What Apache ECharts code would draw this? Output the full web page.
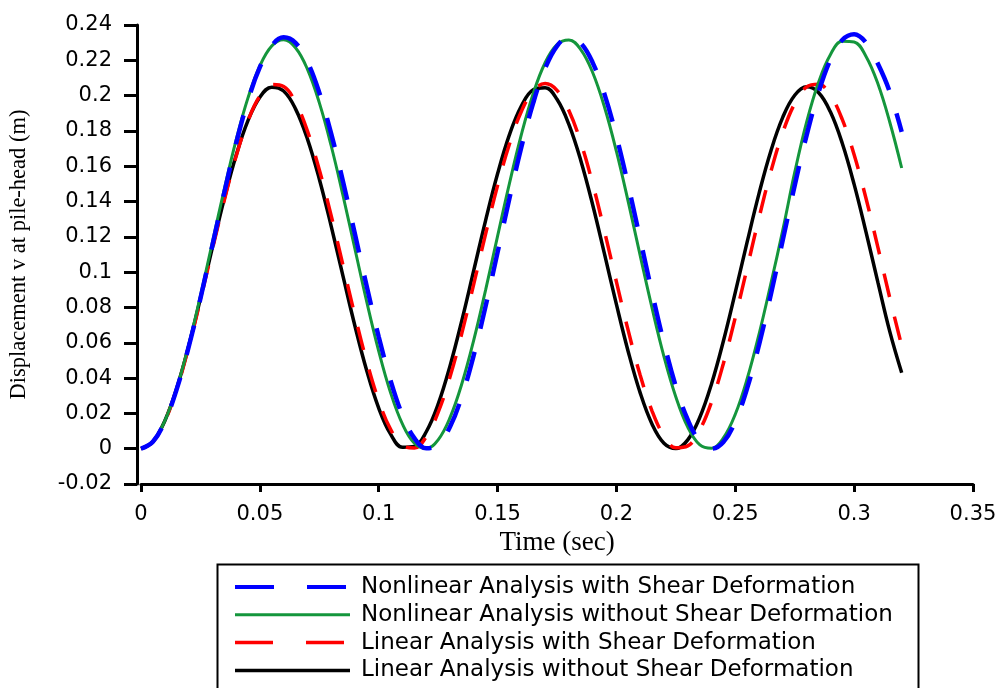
<!DOCTYPE html>
<html>
<head>
<meta charset="utf-8">
<title>Pile-head displacement</title>
<script src="https://cdn.jsdelivr.net/npm/echarts@6/dist/echarts.min.js"></script>
<style>
  html, body { margin: 0; padding: 0; background: #fff; }
  #chart { width: 1001px; height: 688px; }
</style>
</head>
<body>
<div id="chart"></div>
<script>
// Time samples (s)
const time = [
  0, 0.005, 0.01, 0.015, 0.02, 0.025, 0.03, 0.035, 0.04, 0.045,
  0.05, 0.055, 0.06, 0.065, 0.07, 0.075, 0.08, 0.085, 0.09, 0.095,
  0.1, 0.105, 0.11, 0.115, 0.12, 0.125, 0.13, 0.135, 0.14, 0.145,
  0.15, 0.155, 0.16, 0.165, 0.17, 0.175, 0.18, 0.185, 0.19, 0.195,
  0.2, 0.205, 0.21, 0.215, 0.22, 0.225, 0.23, 0.235, 0.24, 0.245,
  0.25, 0.255, 0.26, 0.265, 0.27, 0.275, 0.28, 0.285, 0.29, 0.295,
  0.3, 0.305, 0.31, 0.315, 0.32
];

// Pile-head displacement v (m) for each analysis
const nonlinearWithShear = [
  0, 0.0039, 0.0154, 0.0336, 0.0574, 0.0851, 0.1150, 0.1449, 0.1730, 0.1972,
  0.2161, 0.2283, 0.2330, 0.2299, 0.2192, 0.2017, 0.1785, 0.1512, 0.1216, 0.0917,
  0.0634, 0.0386, 0.0190, 0.0060, 0.0002, 0.0024, 0.0124, 0.0298, 0.0531, 0.0810,
  0.1112, 0.1419, 0.1708, 0.1959, 0.2154, 0.2281, 0.2330, 0.2297, 0.2187, 0.2007,
  0.1769, 0.1489, 0.1187, 0.0883, 0.0599, 0.0353, 0.0164, 0.0043, 0.0000, 0.0038,
  0.0155, 0.0343, 0.0589, 0.0876, 0.1183, 0.1491, 0.1775, 0.2018, 0.2203, 0.2315,
  0.2348, 0.2300, 0.2180, 0.2020, 0.1795
];
const nonlinearWithoutShear = [
  0, 0.0040, 0.0157, 0.0342, 0.0584, 0.0866, 0.1167, 0.1468, 0.1748, 0.1987,
  0.2168, 0.2281, 0.2316, 0.2271, 0.2150, 0.1960, 0.1716, 0.1433, 0.1131, 0.0830,
  0.0553, 0.0317, 0.0139, 0.0031, 0.0001, 0.0050, 0.0176, 0.0369, 0.0616, 0.0901,
  0.1204, 0.1503, 0.1779, 0.2012, 0.2186, 0.2289, 0.2315, 0.2261, 0.2131, 0.1934,
  0.1684, 0.1397, 0.1094, 0.0796, 0.0522, 0.0293, 0.0122, 0.0023, 0.0002, 0.0061,
  0.0195, 0.0396, 0.0649, 0.0937, 0.1240, 0.1565, 0.1850, 0.2074, 0.2232, 0.2308,
  0.2304, 0.2222, 0.2067, 0.1849, 0.1590
];
const linearWithShear = [
  0, 0.0039, 0.0155, 0.0337, 0.0573, 0.0843, 0.1128, 0.1406, 0.1656, 0.1858,
  0.1998, 0.2063, 0.2051, 0.1961, 0.1800, 0.1580, 0.1320, 0.1037, 0.0754, 0.0492,
  0.0272, 0.0110, 0.0018, 0.0004, 0.0068, 0.0206, 0.0407, 0.0656, 0.0934, 0.1219,
  0.1490, 0.1726, 0.1910, 0.2027, 0.2068, 0.2030, 0.1916, 0.1735, 0.1501, 0.1230,
  0.0945, 0.0667, 0.0416, 0.0213, 0.0073, 0.0005, 0.0016, 0.0105, 0.0264, 0.0483,
  0.0743, 0.1025, 0.1309, 0.1571, 0.1792, 0.1955, 0.2049, 0.2064, 0.2002, 0.1865,
  0.1665, 0.1417, 0.1140, 0.0854, 0.0583
];
const linearWithoutShear = [
  0, 0.0040, 0.0157, 0.0341, 0.0578, 0.0851, 0.1137, 0.1414, 0.1661, 0.1858,
  0.1991, 0.2048, 0.2026, 0.1925, 0.1755, 0.1528, 0.1261, 0.0976, 0.0695, 0.0440,
  0.0230, 0.0082, 0.0008, 0.0013, 0.0096, 0.0252, 0.0469, 0.0728, 0.1011, 0.1295,
  0.1557, 0.1779, 0.1941, 0.2033, 0.2045, 0.1979, 0.1837, 0.1633, 0.1382, 0.1102,
  0.0817, 0.0548, 0.0316, 0.0139, 0.0031, 0.0001, 0.0050, 0.0175, 0.0367, 0.0610,
  0.0885, 0.1171, 0.1446, 0.1688, 0.1878, 0.2002, 0.2050, 0.2018, 0.1908, 0.1730,
  0.1497, 0.1227, 0.0942, 0.0663, 0.0430
];

const seriesNames = [
  'Nonlinear Analysis with Shear Deformation',
  'Nonlinear Analysis without Shear Deformation',
  'Linear Analysis with Shear Deformation',
  'Linear Analysis without Shear Deformation'
];
const xAxisTitle = 'Time (sec)';
const yAxisTitle = 'Displacement v at pile-head (m)';

const pairs = (ys) => time.map((t, i) => [t, ys[i]]);
const fmt = (v) => String(+v.toFixed(2));

const chart = echarts.init(document.getElementById('chart'), null, { renderer: 'canvas' });

const lineSeries = (name, data, color, width, dash, z) => ({
  name: name,
  type: 'line',
  data: pairs(data),
  smooth: 0.4,
  symbol: 'none',
  z: z,
  lineStyle: { color: color, width: width, type: dash, cap: 'butt' },
  itemStyle: { color: color }
});

chart.setOption({
  animation: false,
  backgroundColor: '#fff',
  grid: { left: 141, right: 28, top: 25, bottom: 204 },
  xAxis: {
    type: 'value',
    min: 0, max: 0.35, interval: 0.05,
    name: xAxisTitle,
    nameLocation: 'middle',
    nameGap: 40,
    nameTextStyle: { fontFamily: 'Liberation Serif', fontSize: 27, color: '#000' },
    axisLine: { onZero: false, lineStyle: { color: '#000', width: 3 } },
    axisTick: { inside: false, length: 8, lineStyle: { color: '#000', width: 3 } },
    axisLabel: { margin: 20, color: '#000', fontFamily: 'DejaVu Sans', fontSize: 21, formatter: fmt },
    splitLine: { show: false }
  },
  yAxis: {
    type: 'value',
    min: -0.02, max: 0.24, interval: 0.02,
    offset: 4,
    name: yAxisTitle,
    nameLocation: 'middle',
    nameGap: 106,
    nameTextStyle: { fontFamily: 'Liberation Serif', fontSize: 22.5, color: '#000' },
    axisLine: { show: true, onZero: false, lineStyle: { color: '#000', width: 3 } },
    axisTick: { show: true, inside: false, length: 13, lineStyle: { color: '#000', width: 3 } },
    axisLabel: { margin: 25, color: '#000', fontFamily: 'DejaVu Sans', fontSize: 21, formatter: fmt },
    splitLine: { show: false }
  },
  legend: {
    orient: 'vertical',
    left: 233,
    top: 575.5,
    padding: 0,
    itemWidth: 115,
    itemHeight: 20,
    itemGap: 4.8,
    itemStyle: { opacity: 0 },
    textStyle: { fontFamily: 'DejaVu Sans', fontSize: 23, color: '#000', padding: [0, 0, 0, 6] },
    data: [
      { name: seriesNames[0], lineStyle: { type: [39, 33], width: 4 } },
      { name: seriesNames[1], lineStyle: { width: 3 } },
      { name: seriesNames[2], lineStyle: { type: [38, 33], width: 3.5 } },
      { name: seriesNames[3], lineStyle: { width: 3.5 } }
    ]
  },
  graphic: [{
    type: 'rect',
    left: 215,
    top: 562,
    shape: { width: 701, height: 140 },
    style: { fill: 'none', stroke: '#000', lineWidth: 2 },
    silent: true
  }],
  series: [
    lineSeries(seriesNames[0], nonlinearWithShear, '#0000ff', 4.5, [30, 24], 5),
    lineSeries(seriesNames[1], nonlinearWithoutShear, '#14963c', 3, 'solid', 4),
    lineSeries(seriesNames[2], linearWithShear, '#ff0000', 3.5, [24, 20], 3),
    lineSeries(seriesNames[3], linearWithoutShear, '#000000', 3.5, 'solid', 2)
  ]
});
</script>
</body>
</html>
